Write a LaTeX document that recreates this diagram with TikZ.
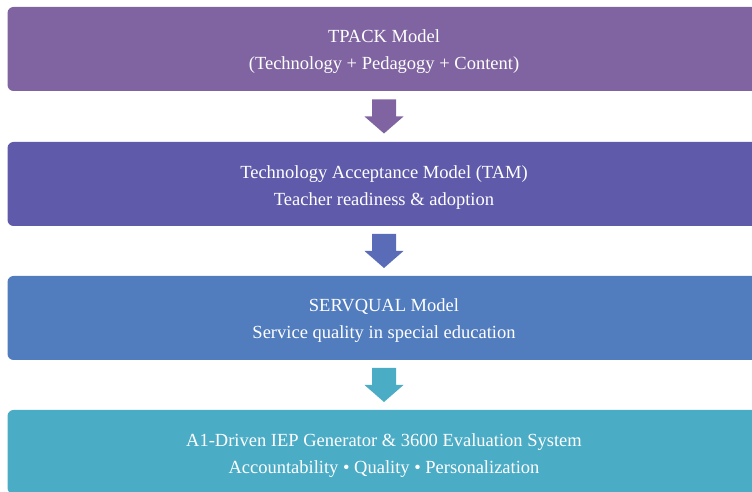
\documentclass[tikz,border=0pt]{standalone}
\usepackage{fontspec}
\setmainfont{Liberation Serif}
\usetikzlibrary{calc}
\definecolor{tpackcol}{HTML}{8064A2}
\definecolor{tamcol}{HTML}{5F5BAA}
\definecolor{servcol}{HTML}{517CBE}
\definecolor{iepcol}{HTML}{4BACC6}
\definecolor{tamarrow}{HTML}{5A6CB8}
\def\blockarrow[#1](#2){\fill[#1] ($(#2)+(-12,17)$) -- ++(24,0) -- ++(0,-17) -- ++(7.5,0) -- ++(-19.5,-17) -- ++(-19.5,17) -- ++(7.5,0) -- cycle;}
\def\topgap{\rule{0pt}{19pt}}

\begin{document}
\begin{tikzpicture}[x=1pt, y=1pt,
		model/.style={rectangle, rounded corners=6pt, minimum width=753pt, minimum height=84pt, inner sep=0pt, text=white, align=center, font=\fontsize{18.5}{27}\selectfont}]
				\useasboundingbox (0, 0) rectangle (752, 492);
				
				\node[model, fill=tpackcol] (tpack) at (384, 443) {\topgap TPACK Model\\(Technology + Pedagogy + Content)};
				\node[model, fill=tamcol] (tam) at (384, 308) {\topgap Technology Acceptance Model (TAM)\\Teacher readiness \& adoption};
				\node[model, fill=servcol] (servqual) at (384, 174) {\topgap SERVQUAL Model\\Service quality in special education};
				\node[model, fill=iepcol] (iep) at (384, 40) {\topgap A1-Driven IEP Generator \& 3600 Evaluation System\\Accountability • Quality • Personalization};
				
				\coordinate (a1) at ($(tpack.south)!0.5!(tam.north)$);
				\coordinate (a2) at ($(tam.south)!0.5!(servqual.north)$);
				\coordinate (a3) at ($(servqual.south)!0.5!(iep.north)$);
				
				\blockarrow[tpackcol](a1)
				\blockarrow[tamarrow](a2)
				\blockarrow[iepcol](a3)
			\end{tikzpicture}
\end{document}
